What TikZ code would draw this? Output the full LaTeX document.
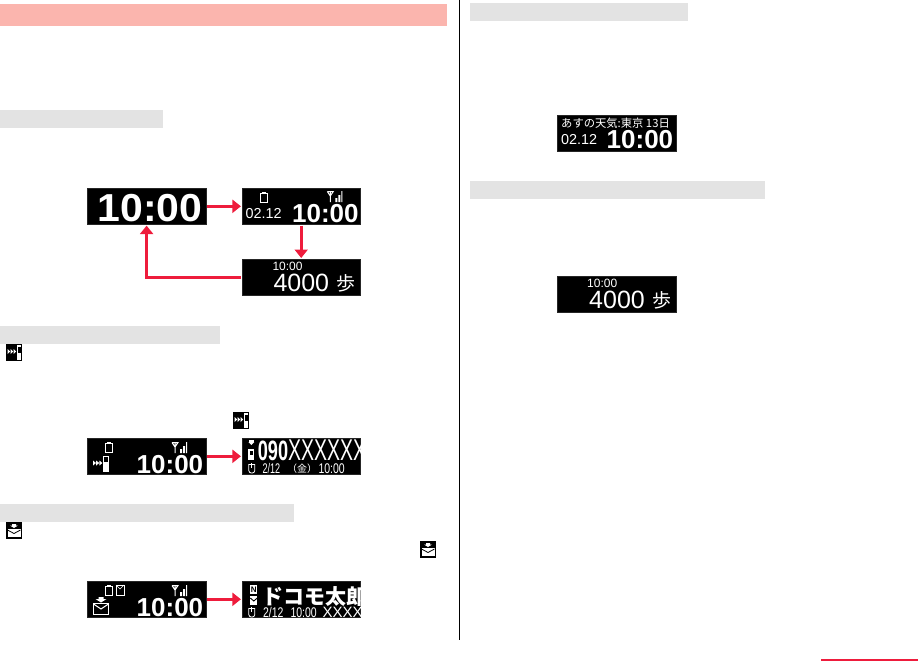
\documentclass[tikz,border=0pt]{standalone}
\usepackage{fontspec}
\setmainfont{Liberation Sans}
\newfontfamily\cjkfont{Noto Sans CJK JP}
\newfontfamily\condfont[FakeStretch=0.65]{Liberation Sans}
\newfontfamily\timefont[FakeStretch=0.75]{Liberation Sans}
\newfontfamily\bigfont[FakeStretch=1.05]{Liberation Sans}
\usetikzlibrary{arrows.meta, positioning, calc}

\begin{document}
\begin{tikzpicture}[
    x=1pt, y=-1pt,
    screen/.style={rectangle, fill=black, draw=black!85, line width=0.6pt, inner sep=0pt,
                  minimum width=118.6pt, minimum height=36.6pt, outer sep=1pt},
    pinkhead/.style={rectangle, fill=headpink, inner sep=0pt, anchor=north west,
                  minimum width=447pt, minimum height=22pt},
    grayhead/.style={rectangle, fill=black!11, inner sep=0pt, anchor=north west,
                  minimum width=#1, minimum height=17.5pt},
    arr/.style={-{Triangle[length=8.5pt, width=13pt]}, line width=3pt, arrowred},
    clockbig/.style={font=\fontsize{39}{39}\selectfont\bigfont\bfseries, text=white, inner sep=0pt, anchor=base west},
    clockmid/.style={font=\fontsize{26}{26}\selectfont\bfseries, text=white, inner sep=0pt, anchor=base west},
    clocksmall/.style={font=\fontsize{12}{12}\selectfont, text=white, inner sep=0pt, anchor=base west},
    datelbl/.style={font=\fontsize{14.4}{14.4}\selectfont, text=white, inner sep=0pt, anchor=base west},
    steplbl/.style={font=\fontsize{25}{25}\selectfont, text=white, inner sep=0pt, anchor=base west},
    kanjilbl/.style={font=\fontsize{19}{19}\selectfont\cjkfont, text=white, inner sep=0pt, anchor=base west},
    condlbl/.style={font=\fontsize{14}{14}\selectfont\condfont, text=white, inner sep=0pt, anchor=base west},
    timelbl/.style={font=\fontsize{14}{14}\selectfont\timefont, text=white, inner sep=0pt, anchor=base west},
    numlbl/.style={font=\fontsize{28}{28}\selectfont\condfont, text=white, inner sep=0pt, anchor=base west},
    batterypic/.pic={
      \draw[white, line width=1pt] (0.5,1.5) rectangle (7.5,10);
      \fill[white] (2,0) rectangle (6,1.5);
    },
    antennapic/.pic={
      \draw[white, line width=1pt] (0,0.5) -- (6,0.5) -- (3,5) -- (0,0.5) (3,0.5) -- (3,11);
      \fill[white] (8,7) rectangle (10,11) (11,4) rectangle (13,11) (14,0) rectangle (15,11);
    },
    forwardpic/.pic={
      \foreach \i in {0,3.2,6.4} {\fill[white] (\i,-2.5) -- (\i+3,0) -- (\i,2.5) -- cycle;}
      \fill[white] (10,-7) rectangle (16,9);
      \fill[black] (11,-6) rectangle (15,-1);
    },
    mailpic/.pic={
      \fill[white] (5.5,0) rectangle (10.5,2) (2.5,2) -- (13.5,2) -- (8,5.5) -- cycle;
      \draw[white, line width=1pt] (0.5,6.5) rectangle (15.5,17.5);
      \draw[white, line width=1pt] (0.5,7) -- (8,12) -- (15.5,7);
    },
    mousepic/.pic={
      \draw[white, line width=0.8pt, rounded corners=2.5pt] (0.5,1) -- (0.5,10) -- (6.5,10) -- (6.5,1);
      \draw[white, line width=0.8pt] (0.5,1.5) -- (6.5,1.5) (3.5,0) -- (3.5,5);
    },
    forwardicon/.pic={
      \fill[black] (0,0) rectangle (16,16.5);
      \fill[white] (11,1) rectangle (15.2,15.7);
      \fill[black] (12,2.5) rectangle (15.2,9);
      \foreach \i in {1.5,4.5,7.5} {\fill[white] (\i,5) -- (\i+2.6,7.5) -- (\i,10) -- cycle;}
    },
    mailicon/.pic={
      \fill[black] (0,0) rectangle (16,16.5);
      \fill[white] (6,2) rectangle (10,3.5) (4,3.5) -- (12,3.5) -- (8,6) -- cycle;
      \fill[white] (1.5,7) rectangle (14.5,15);
      \draw[black, line width=0.8pt] (1.5,8) -- (8,11.5) -- (14.5,8);
    },
  ]
    \definecolor{headpink}{HTML}{FBB5AE}
    \definecolor{arrowred}{HTML}{EE1C3C}
    \useasboundingbox (0,0) rectangle (918,661);

    % heads, left column
    \node[pinkhead] (headtop) at (0,4) {};
    \node[grayhead=163pt] (headclock) at (0,110) {};
    \node[grayhead=220pt] (headcall) at (0,326) {};
    \node[grayhead=294pt] (headmail) at (0,504) {};

    % heads, right column
    \node[grayhead=218pt] (headweather) at (470,3) {};
    \node[grayhead=295pt] (headstep) at (470,181) {};

    % column rule and page mark
    \coordinate (ruletop) at (459,0);
    \coordinate (rulebot) at (459,640);
    \draw[black, line width=0.8pt] (ruletop) -- (rulebot);
    \coordinate (markleft) at (821,660);
    \coordinate (markright) at (918,660);
    \draw[arrowred, line width=1.2pt] (markleft) -- (markright);

    % icons in the body
    \pic at (6,344) {forwardicon};
    \pic at (233,412) {forwardicon};
    \pic at (6,522) {mailicon};
    \pic at (420,541) {mailicon};

    % display cycle
    \node[screen, anchor=north west] (clockdisp) at (86.3,187) {};
    \node[screen, right=34pt of clockdisp] (datedisp) {};
    \node[screen, below=32.4pt of datedisp] (stepdisp) {};
    \draw[arr] (clockdisp) -- (datedisp);
    \draw[arr] (datedisp) -- (stepdisp);
    \draw[arr] (stepdisp.west) -| (clockdisp.south);

    \node[clockbig] (clocktxt) at ($(clockdisp.north west)+(11,34)$) {10:00};

    \pic at ($(datedisp.north west)+(19.4,5)$) {batterypic};
    \pic at ($(datedisp.north west)+(86.4,4)$) {antennapic};
    \node[datelbl] (datetxt) at ($(datedisp.north west)+(4.4,31)$) {02.12};
    \node[clockmid] (dateclock) at ($(datedisp.north west)+(51,35.5)$) {10:00};

    \node[clocksmall] (stepclock) at ($(stepdisp.north west)+(31.4,12)$) {10:00};
    \node[steplbl] (steptxt) at ($(stepdisp.north west)+(32.4,33)$) {4000};
    \node[kanjilbl] (stepkanji) at ($(stepdisp.north west)+(95.4,32)$) {歩};

    % incoming call
    \node[screen, anchor=north west] (calldisp) at (86.3,437) {};
    \node[screen, right=34pt of calldisp] (numdisp) {};
    \draw[arr] (calldisp) -- (numdisp);

    \pic at ($(calldisp.north west)+(18.7,5)$) {batterypic};
    \pic at ($(calldisp.north west)+(85.7,5)$) {antennapic};
    \pic at ($(calldisp.north west)+(6.7,26)$) {forwardpic};
    \node[clockmid] (callclock) at ($(calldisp.north west)+(50.2,36)$) {10:00};

    \begin{scope}
      \clip (numdisp.south west) rectangle (numdisp.north east);
      \node[numlbl] (numtxt) at ($(numdisp.north west)+(16.7,23)$) {\bfseries 090\mdseries\fontsize{30}{28}\selectfont XXXXXX};
      \pic at ($(numdisp.north west)+(7.4,26)$) {mousepic};
      \node[condlbl] (numdate) at ($(numdisp.north west)+(21.4,36)$) {2/12};
      \node[kanjilbl, font=\fontsize{10}{10}\selectfont\cjkfont] (numday) at ($(numdisp.north west)+(46,35.5)$) {（金）};
      \node[timelbl] (numclock) at ($(numdisp.north west)+(77.4,36)$) {10:00};
      \fill[white] ($(numdisp.north west)+(7.9,3)$) rectangle +(5,1.5);
      \fill[white] ($(numdisp.north west)+(7.4,5)$) -- +(6,0) -- +(3,3) -- cycle;
      \fill[white] ($(numdisp.north west)+(7.4,12)$) rectangle +(6,11);
      \fill[black] ($(numdisp.north west)+(8.6,14)$) rectangle +(3.6,4);
    \end{scope}

    % incoming mail
    \node[screen, anchor=north west] (maildisp) at (86.3,580) {};
    \node[screen, right=34pt of maildisp] (senderdisp) {};
    \draw[arr] (maildisp) -- (senderdisp);

    \pic at ($(maildisp.north west)+(18.7,5)$) {batterypic};
    \draw[white, line width=0.8pt] ($(maildisp.north west)+(29.7,5)$) rectangle +(8,10);
    \draw[white, line width=0.6pt] ($(maildisp.north west)+(29.7,5)$) -- +(4,4) -- +(8,0);
    \pic at ($(maildisp.north west)+(85.7,5)$) {antennapic};
    \pic at ($(maildisp.north west)+(6.7,17)$) {mailpic};
    \node[clockmid] (mailclock) at ($(maildisp.north west)+(50.2,36)$) {10:00};

    \begin{scope}
      \clip (senderdisp.south west) rectangle (senderdisp.north east);
      \node[kanjilbl, font=\fontsize{21}{21}\selectfont\cjkfont\bfseries] (sendertxt) at ($(senderdisp.north west)+(21,24)$) {ドコモ太郎};
      \pic at ($(senderdisp.north west)+(7.4,27)$) {mousepic};
      \node[timelbl] (senderdate) at ($(senderdisp.north west)+(22,37)$) {2/12};
      \node[timelbl] (senderclock) at ($(senderdisp.north west)+(49.4,37)$) {10:00};
      \node[datelbl, font=\fontsize{15}{15}\selectfont] (sendermark) at ($(senderdisp.north west)+(81.4,37)$) {XXXX};
      \fill[white] ($(senderdisp.north west)+(9.4,5)$) rectangle +(7,9);
      \node[font=\fontsize{8}{8}\selectfont\bfseries, text=black, inner sep=0pt] (sendernew) at ($(senderdisp.north west)+(12.9,9.5)$) {N};
      \fill[white] ($(senderdisp.north west)+(9.4,16)$) rectangle +(7,9);
      \draw[black, line width=0.9pt] ($(senderdisp.north west)+(9.4,18)$) -- +(3.5,3) -- +(7,0);
    \end{scope}

    % weather display
    \node[screen, anchor=north west] (weatherdisp) at (556.3,114) {};
    \node[kanjilbl, font=\fontsize{11.3}{11.3}\selectfont\cjkfont] (weathertxt) at ($(weatherdisp.north west)+(4.7,13.5)$) {あすの天気:東京 13日};
    \node[datelbl] (weatherdate) at ($(weatherdisp.north west)+(4.7,30.5)$) {02.12};
    \node[clockmid] (weatherclock) at ($(weatherdisp.north west)+(50.2,34.5)$) {10:00};

    % pedometer display
    \node[screen, anchor=north west] (pedodisp) at (556.3,275) {};
    \node[clocksmall] (pedoclock) at ($(pedodisp.north west)+(30.7,12)$) {10:00};
    \node[steplbl] (pedotxt) at ($(pedodisp.north west)+(32.7,33)$) {4000};
    \node[kanjilbl] (pedokanji) at ($(pedodisp.north west)+(95.7,32)$) {歩};
\end{tikzpicture}
\end{document}
